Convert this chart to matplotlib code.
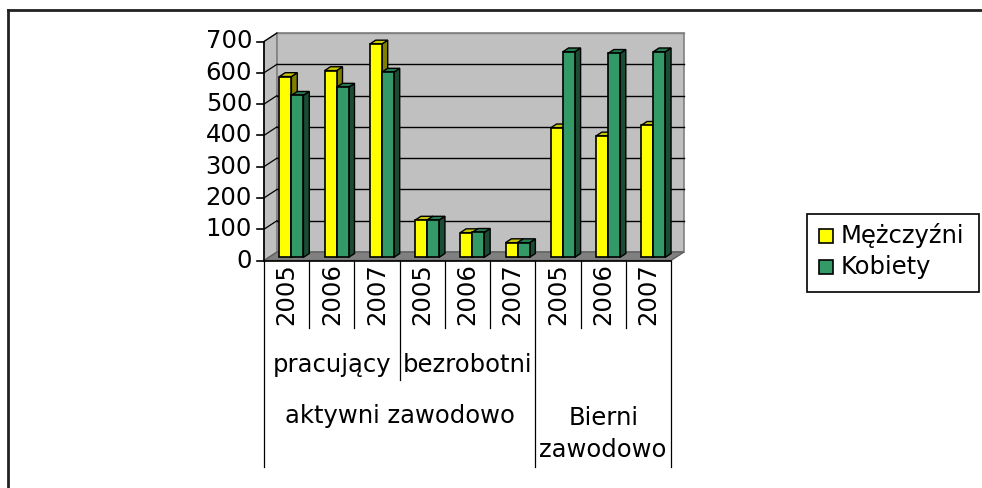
import matplotlib
matplotlib.use("Agg")
import matplotlib.pyplot as plt
from matplotlib.patches import Polygon, Rectangle

# ---- data ----
years = ["2005", "2006", "2007", "2005", "2006", "2007", "2005", "2006", "2007"]
groups2 = ["pracujący", "bezrobotni", ""]
groups1 = ["aktywni zawodowo", "Bierni\nzawodowo"]
series_names = ["Mężczyźni", "Kobiety"]
men = [578, 597, 682, 119, 79, 47, 414, 388, 422]
women = [518, 544, 592, 119, 80, 47, 657, 652, 657]
yticks = [0, 100, 200, 300, 400, 500, 600, 700]

W, H = 982, 488
fig = plt.figure(figsize=(W / 100, H / 100), dpi=100)
fig.patch.set_facecolor("white")

# main axes: front plane x 0..9 -> px 264..671 ; y 0..700 -> px 260.5..41.5
X0, X1, Y0, Y1 = 264, 671, 260.5, 41.5
ax = fig.add_axes([X0 / W, 1 - Y0 / H, (X1 - X0) / W, (Y0 - Y1) / H])
ax.set_xlim(0, 9)
ax.set_ylim(0, 700)
ax.axis("off")

pxx = 9 / (X1 - X0)          # data units per px (x)
pxy = 700 / (Y0 - Y1)        # data units per px (y)
def py2y(py):
    return (Y0 - py) * pxy
def px2x(px):
    return (px - X0) * pxx

DX = 13 * pxx
DY = 8.5 * pxy
FS = 17.5
FONT = "DejaVu Sans"

# walls
ax.add_patch(Polygon([(0, 0), (DX, DY), (DX, 700 + DY), (0, 700)], closed=True,
                     facecolor="#C0C0C0", edgecolor="#808080", lw=1, clip_on=False, zorder=1))
ax.add_patch(Polygon([(DX, DY), (9 + DX, DY), (9 + DX, 700 + DY), (DX, 700 + DY)], closed=True,
                     facecolor="#C0C0C0", edgecolor="#808080", lw=1.2, clip_on=False, zorder=1))
ax.add_patch(Polygon([(0, 0), (9, 0), (9 + DX, DY), (DX, DY)], closed=True,
                     facecolor="#808080", edgecolor="#606060", lw=1, clip_on=False, zorder=2))
# gridlines
for v in yticks[1:]:
    col = "#000000" if v < 700 else "#808080"
    ax.plot([DX, 9 + DX], [v + DY, v + DY], color=col, lw=1, clip_on=False, zorder=1.5)
    ax.plot([0, DX], [v, v + DY], color="#000000", lw=0.9, clip_on=False, zorder=1.5)

# front axes lines and ticks
ax.plot([0, 0], [0, 700], color="black", lw=1.2, clip_on=False, zorder=5)
ax.plot([0, 9], [0, 0], color="black", lw=1.2, clip_on=False, zorder=5)
for v in yticks:
    ax.plot([-7 * pxx, 0], [v, v], color="black", lw=1.2, clip_on=False, zorder=5)
    ax.text(px2x(252), v, str(v), ha="right", va="center", fontsize=FS,
            family=FONT, color="black")

# bars
bw = 12 * pxx
f0, f1 = 0.37, 0.82
cols = [("#FFFF00", "#C8C800", "#808000"), ("#339966", "#267A50", "#1A4D33")]
def draw_bar(xl, v, c):
    fx, fy = f0 * DX, f0 * DY
    bx, by = f1 * DX, f1 * DY
    x_a, x_b = xl + fx, xl + fx + bw
    y_a, y_t = fy, v + fy
    ddx, ddy = bx - fx, by - fy
    side = [(x_b, y_a), (x_b + ddx, y_a + ddy), (x_b + ddx, y_t + ddy), (x_b, y_t)]
    top = [(x_a, y_t), (x_b, y_t), (x_b + ddx, y_t + ddy), (x_a + ddx, y_t + ddy)]
    ax.add_patch(Polygon(side, closed=True, facecolor=c[2], edgecolor="black", lw=1, zorder=3, clip_on=False))
    ax.add_patch(Polygon(top, closed=True, facecolor=c[1], edgecolor="black", lw=1, zorder=3, clip_on=False))
    ax.add_patch(Rectangle((x_a, y_a), bw, v, facecolor=c[0], edgecolor="black", lw=1.2, zorder=3, clip_on=False))

for i in range(len(years)):
    xc = i + 0.5
    draw_bar(xc - bw, men[i], cols[0])
    draw_bar(xc, women[i], cols[1])

# category axis labels (multi-level)
for i, yr in enumerate(years):
    ax.text(i + 0.5, py2y(263), yr, rotation=90, ha="center", va="top",
            fontsize=FS, family=FONT, color="black")
lc = "#000000"
for b in [1, 2, 4, 5, 7, 8]:
    ax.plot([b, b], [0, py2y(328)], color=lc, lw=0.9, clip_on=False)
ax.plot([3, 3], [0, py2y(380)], color=lc, lw=0.9, clip_on=False)
for b in [0, 6, 9]:
    ax.plot([b, b], [0, py2y(467)], color=lc, lw=0.9, clip_on=False)
for j, g in enumerate(groups2):
    if g:
        ax.text(j * 3 + 1.5, py2y(365), g, ha="center", va="center",
                fontsize=FS, family=FONT, color="black")
ax.text(3, py2y(416), groups1[0], ha="center", va="center", fontsize=FS, family=FONT)
ax.text(7.5, py2y(434), groups1[1], ha="center", va="center", fontsize=FS, family=FONT,
        linespacing=1.42)

# overlay axes in pixel coords for border and legend
ov = fig.add_axes([0, 0, 1, 1], zorder=-1)
ov.set_xlim(0, W)
ov.set_ylim(H, 0)
ov.axis("off")
ov.plot([8, 8], [H, 10], color="#222222", lw=2)
ov.plot([8, W], [10, 10], color="#222222", lw=2)

lg = fig.add_axes([0, 0, 1, 1], zorder=5)
lg.set_xlim(0, W)
lg.set_ylim(H, 0)
lg.axis("off")
lg.patch.set_alpha(0)
lg.add_patch(Rectangle((807, 214), 172, 78, facecolor="white", edgecolor="black", lw=1.2))
for k, (name, c) in enumerate(zip(series_names, cols)):
    yc = 236 + k * 31
    lg.add_patch(Rectangle((819, yc - 7), 14, 14, facecolor=c[0], edgecolor="black", lw=1.2))
    lg.text(841, yc, name, ha="left", va="center", fontsize=FS, family=FONT, color="black")

fig.savefig("out.png", dpi=100, facecolor="white")
